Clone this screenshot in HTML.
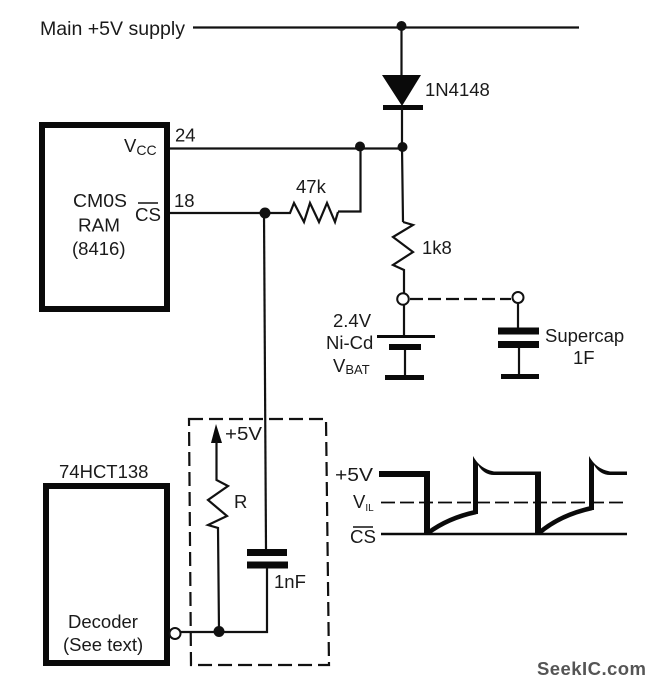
<!DOCTYPE html>
<html>
<head>
<meta charset="utf-8">
<style>
html,body{margin:0;padding:0;background:#fff;}
svg{display:block;}
text{font-family:"Liberation Sans",sans-serif;font-size:18.5px;fill:#1a1a1a;}
.w{stroke:#111;fill:none;stroke-width:2.2;}
.t{stroke:#0a0a0a;fill:none;}
</style>
</head>
<body>
<svg width="656" height="686" viewBox="0 0 656 686" xmlns="http://www.w3.org/2000/svg">
<rect width="656" height="686" fill="#fff"/>
<!-- supply -->
<path class="w" d="M193 27.500H579"/>
<circle cx="401.500" cy="26" r="5" fill="#111"/>
<path class="w" d="M401.500 26V76"/>
<path d="M382 75H421L402 106Z" fill="#0a0a0a"/>
<path class="t" stroke-width="5" d="M383 107.500H423"/>
<path class="w" d="M402 107V147L403 222"/>
<circle cx="402.500" cy="147" r="5" fill="#111"/>
<!-- Vcc -->
<path class="w" d="M168 148.500H402"/>
<circle cx="360" cy="146.500" r="5" fill="#111"/>
<path class="w" d="M360.500 147V211.500H338"/>
<!-- 47k -->
<path class="w" d="M169 213H290L294 203L304 222L310 203L319 222L327 203L335 222L338 212"/>
<circle cx="265" cy="213" r="5.500" fill="#111"/>
<path class="w" d="M264 213L266 549"/>
<!-- RAM -->
<rect x="42" y="125" width="125" height="184" fill="none" stroke="#0a0a0a" stroke-width="6"/>
<!-- 1k8 -->
<path class="w" d="M403 222L413 225L393 237L413 252L393 265L404 270V293"/>
<circle cx="403" cy="299" r="5.800" fill="#fff" stroke="#111" stroke-width="2"/>
<circle cx="518" cy="297.500" r="5.500" fill="#fff" stroke="#111" stroke-width="2"/>
<path class="w" stroke-dasharray="13 5" d="M410 299H511"/>
<!-- battery -->
<path class="w" d="M404 305V336"/>
<path class="t" stroke-width="3" d="M377 336.500H435"/>
<path class="t" stroke-width="6" d="M389 347H421"/>
<path class="w" d="M405 350V377"/>
<path class="t" stroke-width="5" d="M385 377.500H424"/>
<!-- supercap -->
<path class="w" d="M518 303V328"/>
<path class="t" stroke-width="7" d="M498 331H539M498 344.500H539"/>
<path class="w" d="M519 348V376"/>
<path class="t" stroke-width="5" d="M501 376.500H539"/>
<!-- dashed box -->
<path class="w" stroke-dasharray="14 6" d="M189 419H326L329 665H191Z"/>
<!-- arrow + R -->
<path d="M216 424L222 443H211Z" fill="#0a0a0a"/>
<path class="w" d="M216.500 440V480L228 486L208 500L227 516L208 525L218 528L219 631"/>
<circle cx="219" cy="631.500" r="5.500" fill="#111"/>
<!-- cap 1nF -->
<path class="t" stroke-width="7" d="M247 552.500H287M247 565H288"/>
<path class="w" d="M267 568V632H181"/>
<!-- decoder -->
<rect x="46" y="486" width="121" height="177" fill="none" stroke="#0a0a0a" stroke-width="6"/>
<circle cx="175" cy="633.500" r="5.500" fill="#fff" stroke="#111" stroke-width="2"/>
<!-- waveform -->
<path class="t" stroke-width="1.800" stroke-dasharray="14 5" d="M381 502.500H627"/>
<path class="t" stroke-width="2.500" d="M381 534H627"/>
<path class="t" stroke-width="6" d="M379 474H427V533"/>
<path class="t" stroke-width="4.500" d="M428 533Q448 518 476 512"/>
<path d="M473 456Q480 469 494 471.500H541V533H535V475H494Q484 475 478 465V514H473Z" fill="#0a0a0a"/>
<path class="t" stroke-width="4.500" d="M539 533Q560 515 592 508"/>
<path d="M589 456Q596 469 610 471.500H627V475H610Q600 475 594 465V510H589Z" fill="#0a0a0a"/>
<!-- text -->
<text x="40" y="35" style="font-size:19.500px" textLength="145" lengthAdjust="spacingAndGlyphs">Main +5V supply</text>
<text x="175" y="141.500">24</text>
<text x="174" y="207">18</text>
<text x="124" y="152">V<tspan font-size="14" dy="3">CC</tspan></text>
<text x="73" y="207" textLength="54" lengthAdjust="spacingAndGlyphs">CM0S</text>
<text x="78" y="231.500" textLength="42" lengthAdjust="spacingAndGlyphs">RAM</text>
<text x="72" y="255">(8416)</text>
<text x="135" y="221" textLength="26" lengthAdjust="spacingAndGlyphs">CS</text>
<path d="M138 203H158" stroke="#111" stroke-width="1.500"/>
<text x="296" y="193">47k</text>
<text x="425" y="96">1N4148</text>
<text x="422" y="254">1k8</text>
<text x="333" y="327">2.4V</text>
<text x="326" y="349">Ni-Cd</text>
<text x="333" y="372">V<tspan font-size="13" dy="2">BAT</tspan></text>
<text x="545" y="342">Supercap</text>
<text x="573" y="364">1F</text>
<text x="225" y="440" textLength="37" lengthAdjust="spacingAndGlyphs">+5V</text>
<text x="234" y="508">R</text>
<text x="274" y="588">1nF</text>
<text x="59" y="478">74HCT138</text>
<text x="68" y="628">Decoder</text>
<text x="63" y="651">(See text)</text>
<text x="335" y="481" textLength="38" lengthAdjust="spacingAndGlyphs">+5V</text>
<text x="353" y="508">V<tspan font-size="10" dy="3">IL</tspan></text>
<text x="350" y="543" textLength="26" lengthAdjust="spacingAndGlyphs">CS</text>
<path d="M353 527H373" stroke="#111" stroke-width="1.500"/>
<text x="537" y="675" textLength="109" style="font-weight:bold;font-size:18.500px;fill:#555">SeekIC.com</text>
</svg>
</body>
</html>
